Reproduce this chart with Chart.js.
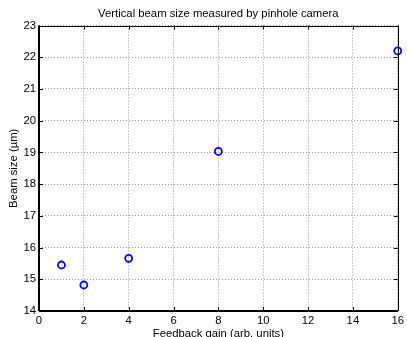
<!DOCTYPE html>
<html>
<head>
<meta charset="utf-8">
<script src="https://cdn.jsdelivr.net/npm/chart.js@4/dist/chart.umd.min.js"></script>
<style>
  html, body { margin: 0; padding: 0; background: #fff; }
  #wrap { width: 407px; height: 337px; position: relative; }
</style>
</head>
<body>
<div id="wrap"><canvas id="c" width="407" height="337"></canvas></div>
<script>
const titleText = 'Vertical beam size measured by pinhole camera';
const xLabel = 'Feedback gain (arb. units)';
const yLabel = 'Beam size (\u00b5m)';
const gains = [1, 2, 4, 8, 16];
const beamSizes = [15.45, 14.82, 15.66, 19.03, 22.2];
const xTickValues = [0, 2, 4, 6, 8, 10, 12, 14, 16];
const yTickValues = [14, 15, 16, 17, 18, 19, 20, 21, 22, 23];

const FONT = 'Liberation Sans, Arial, Helvetica, sans-serif';
const FS = 11.3;

const boxPlugin = {
  id: 'boxTicks',
  afterDatasetsDraw(chart) {
    const {ctx, chartArea: a, scales: {x, y}} = chart;
    ctx.save();
    ctx.strokeStyle = '#000';
    ctx.lineWidth = 1;
    const L = 4;
    ctx.beginPath();
    xTickValues.forEach(v => {
      const px = Math.round(x.getPixelForValue(v)) + 0.5;
      ctx.moveTo(px, a.bottom); ctx.lineTo(px, a.bottom - L);
      ctx.moveTo(px, a.top); ctx.lineTo(px, a.top + L);
    });
    yTickValues.forEach(v => {
      const py = Math.round(y.getPixelForValue(v)) + 0.5;
      ctx.moveTo(a.left, py); ctx.lineTo(a.left + L, py);
      ctx.moveTo(a.right, py); ctx.lineTo(a.right - L, py);
    });
    ctx.stroke();
    ctx.beginPath();
    ctx.moveTo(a.left, Math.round(a.top) + 0.5);
    ctx.lineTo(a.right, Math.round(a.top) + 0.5);
    ctx.moveTo(Math.round(a.right) + 0.5, a.top);
    ctx.lineTo(Math.round(a.right) + 0.5, a.bottom);
    ctx.stroke();
    ctx.lineWidth = 2;
    ctx.beginPath();
    ctx.moveTo(a.left, a.bottom);
    ctx.lineTo(a.right, a.bottom);
    ctx.moveTo(a.left, a.top);
    ctx.lineTo(a.left, a.bottom);
    ctx.stroke();
    ctx.restore();
  }
};

new Chart(document.getElementById('c'), {
  type: 'scatter',
  data: {
    datasets: [{
      data: gains.map((g, i) => ({x: g, y: beamSizes[i]})),
      showLine: false,
      pointRadius: 3.5,
      pointHoverRadius: 3.5,
      pointBorderWidth: 1.8,
      borderColor: '#0000ff',
      backgroundColor: 'rgba(255,255,255,0)',
      clip: false
    }]
  },
  options: {
    responsive: false,
    animation: false,
    events: [],
    layout: { padding: { left: 0, right: 6, top: 0, bottom: 0 } },
    plugins: {
      legend: { display: false },
      tooltip: { enabled: false },
      title: {
        display: true,
        fullSize: false,
        text: titleText,
        color: '#000',
        font: { family: FONT, size: FS, weight: 'normal', lineHeight: 1.2 },
        padding: { top: 7, bottom: 5 }
      }
    },
    scales: {
      x: {
        type: 'linear',
        min: 0, max: 16,
        afterBuildTicks(s) { s.ticks = xTickValues.map(v => ({value: v})); },
        afterFit(s) { s.height = 26; },
        ticks: { color: '#000', font: { family: FONT, size: FS }, padding: 3, maxRotation: 0, autoSkip: false },
        grid: { color: '#999999', lineWidth: 1, drawTicks: false },
        border: { display: false, dash: [1, 2] },
        title: { display: true, text: xLabel, color: '#000', font: { family: FONT, size: FS, lineHeight: 1.0 }, padding: { top: 0, bottom: -3 } }
      },
      y: {
        type: 'linear',
        min: 14, max: 23,
        afterBuildTicks(s) { s.ticks = yTickValues.map(v => ({value: v})); },
        afterFit(s) { s.width = 39; },
        ticks: { color: '#000', font: { family: FONT, size: FS }, padding: 3, autoSkip: false },
        grid: { color: '#999999', lineWidth: 1, drawTicks: false },
        border: { display: false, dash: [1, 2] },
        title: { display: true, text: yLabel, color: '#000', font: { family: FONT, size: FS, lineHeight: 1.2 }, padding: { top: 7, bottom: 0 } }
      }
    }
  },
  plugins: [boxPlugin]
});
</script>
</body>
</html>
